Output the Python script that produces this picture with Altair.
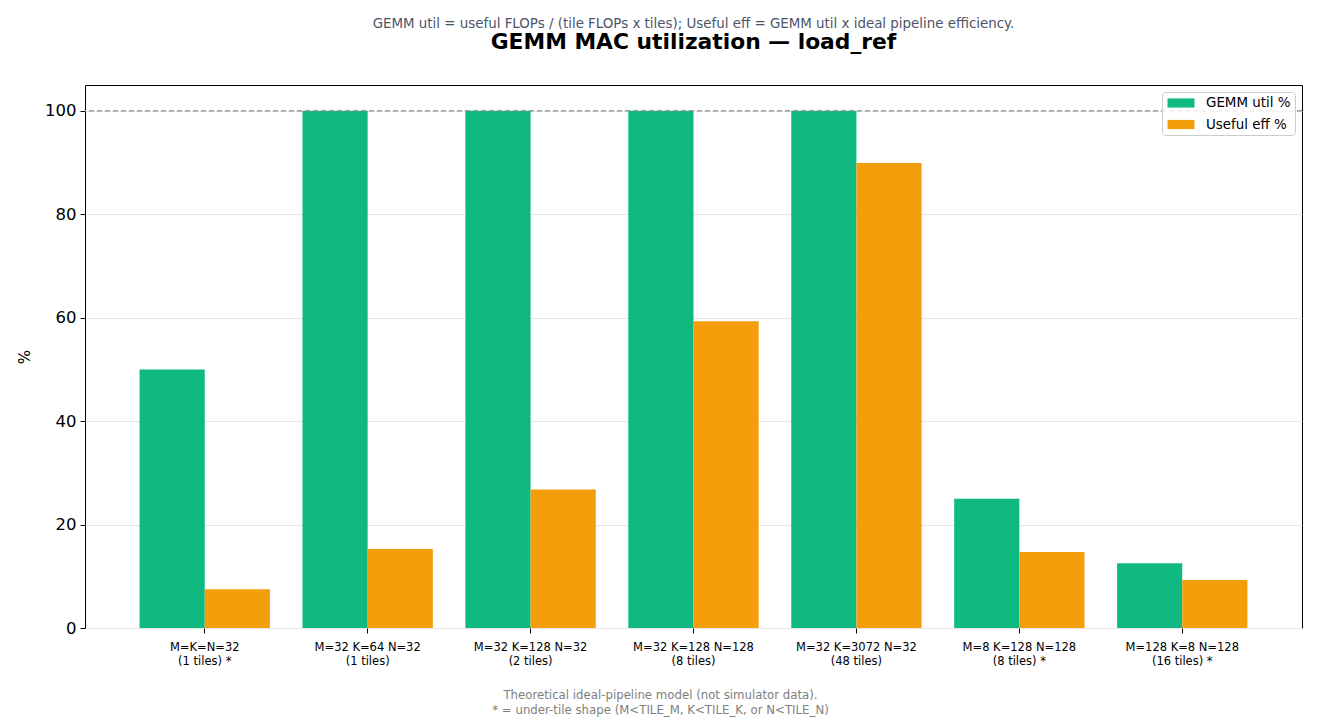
import altair as alt
import pandas as pd

categories = [
    "M=K=N=32\n(1 tiles) *",
    "M=32 K=64 N=32\n(1 tiles)",
    "M=32 K=128 N=32\n(2 tiles)",
    "M=32 K=128 N=128\n(8 tiles)",
    "M=32 K=3072 N=32\n(48 tiles)",
    "M=8 K=128 N=128\n(8 tiles) *",
    "M=128 K=8 N=128\n(16 tiles) *",
]
gemm_util = [50.0, 100.0, 100.0, 100.0, 100.0, 25.0, 12.5]
useful_eff = [7.5, 15.3, 26.8, 59.3, 89.9, 14.7, 9.3]
series_names = ["GEMM util %", "Useful eff %"]
series_colors = ["#10b981", "#f59e0b"]
ref_value = [100]
y_ticks = [0, 20, 40, 60, 80, 100]

rows = []
for c, g, u in zip(categories, gemm_util, useful_eff):
    rows.append({"cat": c, "series": series_names[0], "value": g})
    rows.append({"cat": c, "series": series_names[1], "value": u})
df = pd.DataFrame(rows)
ref_df = pd.DataFrame({"y": ref_value})

FONT = "DejaVu Sans"

bars = alt.Chart(df).mark_bar(strokeWidth=0).encode(
    x=alt.X(
        "cat:N",
        sort=categories,
        scale=alt.Scale(paddingInner=0.2, paddingOuter=0.335),
        axis=alt.Axis(
            title=[
                "Theoretical ideal-pipeline model (not simulator data).",
                "* = under-tile shape (M<TILE_M, K<TILE_K, or N<TILE_N)",
            ],
            titleFont=FONT,
            titleFontSize=11.75,
            titleFontWeight="normal",
            titleColor="#808080",
            titleX=575,
            titleY=61.5,
            titleAlign="center",
            titleBaseline="top",
            titleLineHeight=15,
            labelExpr="split(datum.label, '\\n')",
            labelAngle=0,
            labelFont=FONT,
            labelFontSize=11.5,
            labelColor="black",
            labelLineHeight=14.5,
            labelPadding=8,
            tickColor="black",
            tickSize=5,
            domain=False,
            grid=False,
        ),
    ),
    xOffset=alt.XOffset(
        "series:N",
        sort=series_names,
        scale=alt.Scale(paddingInner=0, paddingOuter=0),
    ),
    y=alt.Y(
        "value:Q",
        scale=alt.Scale(domain=[0, 105], nice=False),
        axis=alt.Axis(
            title="%",
            titleFont=FONT,
            titleFontSize=15,
            titleFontWeight="normal",
            titleColor="black",
            titlePadding=12,
            values=y_ticks,
            labelFont=FONT,
            labelFontSize=16.5,
            labelColor="black",
            labelPadding=4,
            tickColor="black",
            tickSize=5,
            domain=False,
            grid=True,
            gridColor="#e6e6e6",
            gridWidth=1,
        ),
    ),
    color=alt.Color(
        "series:N",
        sort=series_names,
        scale=alt.Scale(domain=series_names, range=series_colors),
        legend=alt.Legend(
            title=None,
            orient="top-right",
            offset=7,
            labelFont=FONT,
            labelFontSize=13.4,
            labelColor="black",
            symbolType="M-2,-0.68L2,-0.68L2,0.68L-2,0.68Z",
            symbolSize=182,
            symbolStrokeWidth=0,
            symbolOpacity=1,
            symbolOffset=8,
            rowPadding=7.5,
            labelOffset=18,
            padding=4,
            fillColor="rgba(255,255,255,0.85)",
            strokeColor="#cccccc",
            cornerRadius=3,
        ),
    ),
)

rule = alt.Chart(ref_df).mark_rule(
    color="#888888", strokeDash=[5, 3], strokeWidth=1.3
).encode(y="y:Q")

chart = (
    alt.layer(bars, rule)
    .properties(
        width=1217,
        height=543,
        autosize=alt.AutoSizeParams(type="none"),
        padding={"left": 77, "top": 77, "right": 10, "bottom": 90},
        title=alt.TitleParams(
            text="GEMM util = useful FLOPs / (tile FLOPs x tiles); Useful eff = GEMM util x ideal pipeline efficiency.",
            subtitle="GEMM MAC utilization — load_ref",
            anchor="middle",
            font=FONT,
            fontSize=13.4,
            fontWeight="normal",
            color="#4a5568",
            subtitleFont=FONT,
            subtitleFontSize=21.8,
            subtitleFontWeight="bold",
            subtitleColor="black",
            subtitlePadding=1.5,
            offset=31,
        ),
    )
    .configure(background="white", view=alt.ViewConfig(stroke="black", strokeWidth=1))
)

chart.save("out.html", embed_options={"renderer": "svg", "actions": False})
